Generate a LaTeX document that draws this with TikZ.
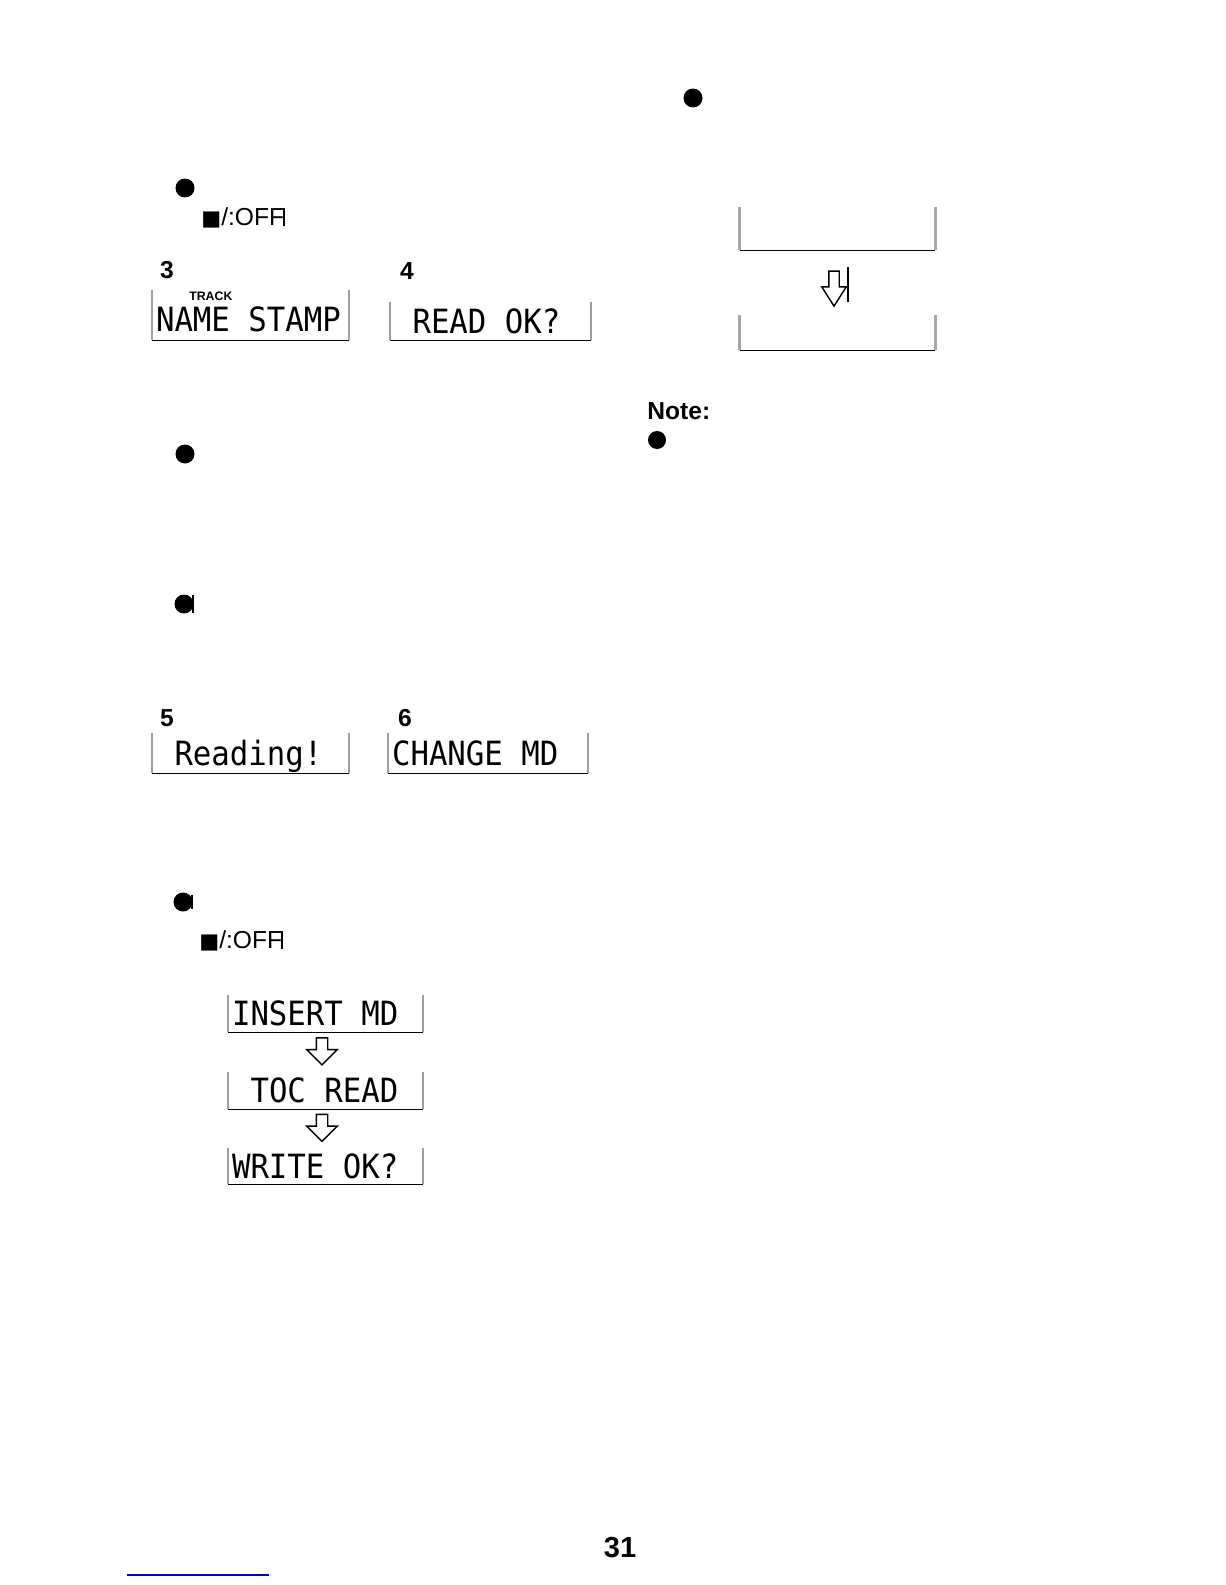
\documentclass[tikz,border=0pt]{standalone}
\usepackage{fontspec}
\setmainfont{Liberation Sans}
\newfontfamily\lcdfont[FakeStretch=0.92]{DejaVu Sans Mono}
\newfontfamily\symfont{DejaVu Sans}
\usepackage{xcolor}
\usepackage{tikz}
\usetikzlibrary{shapes.arrows, positioning}
\definecolor{linkblue}{RGB}{0,0,205}
\newcommand{\lcdgap}{\phantom{M}}

\begin{document}
\begin{tikzpicture}[
        x=0.02cm, y=-0.02cm,
        lcd/.style = {inner xsep=0.08cm, inner ysep=0pt, align=left, text height=0.49cm, text depth=0pt, font=\lcdfont\fontsize{19}{19}\selectfont},
        side/.style = {draw=gray!75, line width=1pt},
        thickside/.style = {draw=gray!70, line width=1.6pt},
        base/.style = {draw=black, line width=0.9pt},
        dot/.style = {circle, fill=black, minimum size=0.38cm, inner sep=0pt},
        stepnum/.style = {inner sep=0pt, font=\bfseries\fontsize{14}{14}\selectfont},
        keytext/.style = {inner sep=0pt, anchor=west, font=\fontsize{14}{14}\selectfont},
        hollow/.style = {single arrow, draw, line width=0.8pt, shape border rotate=270, inner sep=0.1cm, minimum height=0.54cm, minimum width=0.58cm, single arrow head extend=0.19cm},
        scratch/.style = {line width=1.3pt}
    ]
        \useasboundingbox[fill=white] (0,0) rectangle (1225,1585);

        % Left column: steps 3 and 4
        \node [dot] (dotA) at (185,188) {};
        \node [keytext] (offA) at (201,218) {{\symfont\fontsize{12}{12}\selectfont ■}/:OFF\kern-0.04em\rule{0.09em}{0.72em}};
        \node [stepnum] (nThree) at (167,270) {3};
        \node [stepnum] (nFour) at (407,271) {4};
        \node [lcd, text width=3.78cm, minimum height=1cm, text height=0.68cm] (bThree) at (250.5,315) {NAME\lcdgap STAMP};
        \node [inner sep=0pt, anchor=west, font=\bfseries\fontsize{7}{7}\selectfont] (track) at (189,296) {TRACK};
        \node [lcd, text width=3.86cm, minimum height=0.76cm] (bFour) at (490.5,321) {\lcdgap READ\lcdgap OK?};

        \node [dot] (dotB) at (185,454) {};
        \node [dot] (dotC) at (184,604) {};
        \draw [scratch] (193,595) -- (193,613);

        % Left column: steps 5 and 6
        \node [stepnum] (nFive) at (167,718) {5};
        \node [stepnum] (nSix) at (405,718) {6};
        \node [lcd, text width=3.78cm, minimum height=0.8cm] (bReading) at (250.5,753) {\lcdgap Reading!};
        \node [lcd, text width=3.84cm, minimum height=0.8cm] (bChange) at (488,753) {CHANGE\lcdgap MD};

        % Left column: display sequence
        \node [dot] (dotD) at (183,902) {};
        \draw [scratch] (192,895) -- (192,909);
        \node [keytext] (offB) at (199,941) {{\symfont\fontsize{12}{12}\selectfont ■}/:OFF\kern-0.04em\rule{0.09em}{0.72em}};
        \node [lcd, text width=3.74cm, minimum height=0.74cm] (bInsert) at (325.5,1013.5) {INSERT\lcdgap MD};
        \node [hollow] (arrA) at (322,1048.5) {};
        \node [lcd, text width=3.74cm, minimum height=0.74cm] (bToc) at (325.5,1090.5) {\lcdgap TOC\lcdgap READ};
        \node [hollow] (arrB) at (322,1125) {};
        \node [lcd, text width=3.74cm, minimum height=0.72cm] (bWrite) at (325.5,1166) {WRITE\lcdgap OK?};

        % Right column
        \node [dot] (dotE) at (693,98) {};
        \node [lcd, text width=3.74cm, minimum height=0.86cm] (bFirst) at (837.5,228.5) {};
        \node [hollow, inner sep=0.09cm, minimum height=0.7cm, minimum width=0.46cm, single arrow head extend=0.14cm, single arrow tip angle=65] (arrC) at (834,284.5) {};
        \draw [scratch] (848,267) -- (848,302);
        \node [lcd, text width=3.74cm, minimum height=0.7cm] (bSecond) at (837.5,332.5) {};

        \node [inner sep=0pt, anchor=west, font=\bfseries\fontsize{14}{14}\selectfont] (note) at (647,411) {Note:};
        \node [dot, minimum size=0.36cm] (dotF) at (657,440) {};

        % Display frames
        \foreach \b in {bThree, bFour, bReading, bChange, bInsert, bToc, bWrite} {
            \draw [side] (\b.north west) -- (\b.south west);
            \draw [side] (\b.north east) -- (\b.south east);
            \draw [base] (\b.south west) -- (\b.south east);
        }
        \foreach \b in {bFirst, bSecond} {
            \draw [thickside] (\b.north west) -- (\b.south west);
            \draw [thickside] (\b.north east) -- (\b.south east);
            \draw [base] (\b.south west) -- (\b.south east);
        }

        % Page number
        \node [inner sep=0pt, font=\bfseries\fontsize{16.5}{16.5}\selectfont] (page) at (620,1548) {31};
        \draw [linkblue, line width=1.2pt] (127,1575) -- (269,1575);

    \end{tikzpicture}
\end{document}
